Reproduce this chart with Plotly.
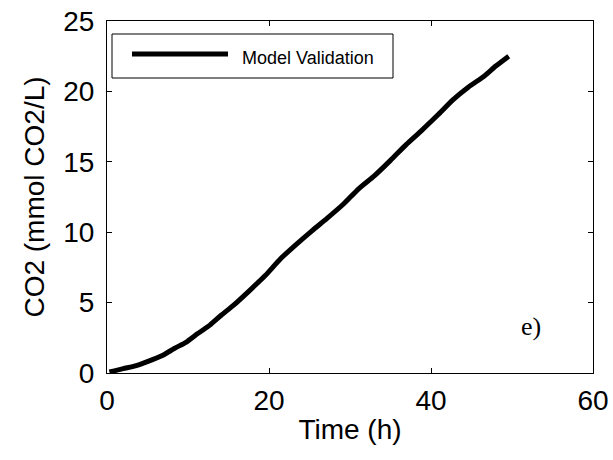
import plotly.graph_objects as go

# Data
time_h = [0.3, 2.0, 3.5, 4.9, 6.9, 8.3, 9.8, 11.2, 12.7, 14.1, 15.6, 17.5, 19.5,
          21.4, 23.3, 25.3, 27.2, 29.2, 31.1, 33.0, 35.0, 36.9, 38.8, 40.8, 42.7,
          44.6, 46.6, 48.0, 49.6]
co2 = [0.07, 0.31, 0.5, 0.79, 1.26, 1.74, 2.2, 2.8, 3.4, 4.1, 4.8, 5.8, 6.9,
       8.1, 9.1, 10.1, 11.0, 12.0, 13.1, 14.0, 15.1, 16.2, 17.2, 18.3, 19.4,
       20.3, 21.1, 21.8, 22.5]
series_name = "Model Validation"
x_ticks = [0, 20, 40, 60]
y_ticks = [0, 5, 10, 15, 20, 25]

W, H = 613, 460
L, R, T, B = 107, 20, 21, 87
pw, ph = W - L - R, H - T - B

def px(xp):
    return (xp - L) / pw

def py(yp):
    return (H - B - yp) / ph

fig = go.Figure()
fig.add_trace(go.Scatter(x=time_h, y=co2, mode="lines", name=series_name,
                         line=dict(color="black", width=5, shape="spline", smoothing=0.6),
                         showlegend=False))

axis_common = dict(showline=True, linecolor="black", linewidth=1, mirror="ticks",
                   ticks="inside", ticklen=5, tickwidth=1, tickcolor="black",
                   showgrid=False, zeroline=False,
                   tickfont=dict(family="Arial, Liberation Sans", size=28, color="black"))

fig.update_xaxes(range=[0, 60], tickvals=x_ticks, ticktext=[str(v) for v in x_ticks],
                 title=dict(text="Time (h)", font=dict(family="Arial, Liberation Sans", size=28, color="black"),
                            standoff=4),
                 ticklabelstandoff=2, **axis_common)
fig.update_yaxes(range=[0, 25], tickvals=y_ticks, ticktext=[str(v) for v in y_ticks],
                 title=dict(text="CO2 (mmol CO2/L)", font=dict(family="Arial, Liberation Sans", size=28, color="black"),
                            standoff=10),
                 ticklabelstandoff=6, **axis_common)

# legend box (drawn to match the MATLAB-style legend)
fig.add_shape(type="rect", xref="paper", yref="paper",
              x0=px(112), x1=px(393), y0=py(78), y1=py(34),
              line=dict(color="black", width=1), fillcolor="white", layer="above")
fig.add_shape(type="line", xref="paper", yref="paper",
              x0=px(132), x1=px(228), y0=py(54), y1=py(54),
              line=dict(color="black", width=5), layer="above")
fig.add_annotation(xref="paper", yref="paper", x=px(240), y=py(58), text=series_name,
                   showarrow=False, xanchor="left", yanchor="middle",
                   font=dict(family="Arial, Liberation Sans", size=18, color="black"))

fig.add_annotation(x=52.3, y=3.3, xref="x", yref="y", text="e)", showarrow=False,
                   font=dict(family="Times New Roman, Liberation Serif", size=26, color="black"))

fig.update_layout(width=W, height=H, margin=dict(l=L, r=R, t=T, b=B, autoexpand=False),
                  plot_bgcolor="white", paper_bgcolor="white", showlegend=False)

fig.write_html("out.html")
